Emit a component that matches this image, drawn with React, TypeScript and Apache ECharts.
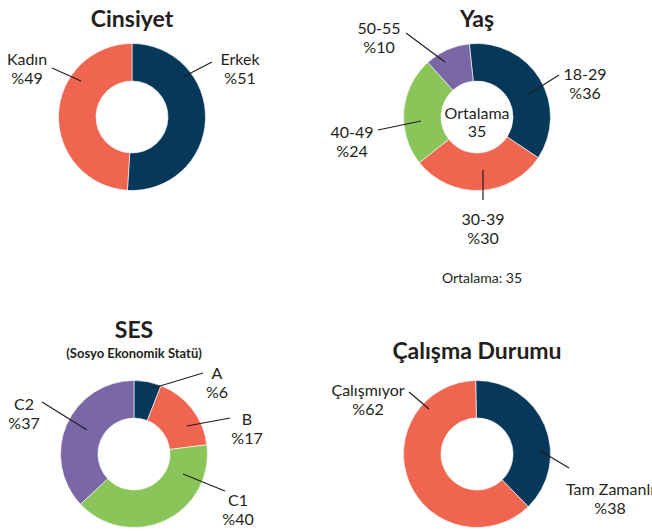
import React, { useEffect, useRef } from 'react';
import * as echarts from 'echarts';

// ---- Data ----
const genderCategories = ['Erkek', 'Kadın'];
const genderValues = [51, 49];

const ageCategories = ['18-29', '30-39', '40-49', '50-55'];
const ageValues = [36, 30, 24, 10];
const averageAge = 35;

const sesCategories = ['A', 'B', 'C1', 'C2'];
const sesValues = [6, 17, 40, 37];

const workCategories = ['Tam Zamanlı', 'Çalışmıyor'];
const workValues = [38, 62];

// ---- Styles ----
const NAVY = '#053859';
const CORAL = '#EF6550';
const GREEN = '#89C559';
const PURPLE = '#7A67A6';
const TEXT = '#231F20';
const FONT = 'Lato';

type LabelPos = { label: number[]; from: number[]; to: number[] };

const genderLayout: LabelPos[] = [
  { label: [240, 68], from: [183, 77], to: [212, 62] },
  { label: [27, 68], from: [81, 81], to: [52, 68] },
];
const ageLayout: LabelPos[] = [
  { label: [585, 83], from: [529, 94], to: [559, 75] },
  { label: [483, 228], from: [483, 170], to: [483, 200] },
  { label: [352, 141], from: [421, 121], to: [378, 130] },
  { label: [379, 37], from: [445, 62], to: [406, 33] },
];
const sesLayout: LabelPos[] = [
  { label: [217, 382], from: [150, 389], to: [203, 373] },
  { label: [247, 428], from: [187, 426], to: [230, 418] },
  { label: [238, 509], from: [183, 474], to: [225, 491] },
  { label: [24, 413], from: [87, 430], to: [42, 402] },
];
const workLayout: LabelPos[] = [
  { label: [610, 498], from: [539, 450], to: [569, 468] },
  { label: [368, 399], from: [429, 409], to: [409, 392] },
];

function pie(
  cats: string[],
  vals: number[],
  colors: string[],
  center: number[],
  startAngle: number,
  layout: LabelPos[]
) {
  return {
    type: 'pie',
    center,
    radius: [36, 73.5],
    startAngle,
    clockwise: true,
    silent: true,
    avoidLabelOverlap: false,
    emphasis: { disabled: true },
    itemStyle: { borderColor: '#ffffff', borderWidth: 0.6 },
    data: cats.map((c, i) => ({ name: c, value: vals[i], itemStyle: { color: colors[i] } })),
    label: {
      show: true,
      position: 'outside',
      formatter: '{b}\n%{c}',
      fontFamily: FONT,
      fontSize: 16,
      lineHeight: 19,
      color: TEXT,
      align: 'center',
    },
    labelLine: { show: false },
    labelLayout: (p: any) => {
      const l = layout[p.dataIndex];
      return {
        x: l.label[0],
        y: l.label[1],
        align: 'center',
        verticalAlign: 'middle',
      };
    },
  };
}

function leaderLines(layout: LabelPos[]) {
  return layout.map((l) => ({
    type: 'line',
    silent: true,
    z: 100,
    shape: { x1: l.from[0], y1: l.from[1], x2: l.to[0], y2: l.to[1] },
    style: { stroke: TEXT, lineWidth: 1.2 },
  }));
}

function txt(text: string, x: number, y: number, font: string, lineHeight?: number) {
  return {
    type: 'text',
    x,
    y,
    silent: true,
    style: {
      text,
      font,
      fill: TEXT,
      textAlign: 'center',
      align: 'center',
      textVerticalAlign: 'middle',
      verticalAlign: 'middle',
      lineHeight,
    },
  };
}

export default function App() {
  const ref = useRef<HTMLDivElement>(null);
  useEffect(() => {
    const chart = echarts.init(ref.current!, null, { renderer: 'svg' });
    chart.setOption({
      animation: false,
      backgroundColor: '#ffffff',
      series: [
        pie(genderCategories, genderValues, [NAVY, CORAL], [132, 117], 90, genderLayout),
        pie(ageCategories, ageValues, [NAVY, CORAL, GREEN, PURPLE], [477, 117], 96, ageLayout),
        pie(sesCategories, sesValues, [NAVY, CORAL, GREEN, PURPLE], [134, 454], 90, sesLayout),
        pie(workCategories, workValues, [NAVY, CORAL], [477, 454], 91, workLayout),
      ],
      graphic: [
        ...leaderLines(genderLayout),
        ...leaderLines(ageLayout),
        ...leaderLines(sesLayout),
        ...leaderLines(workLayout),
        txt('Cinsiyet', 132, 18, `bold 23px ${FONT}`),
        txt('Yaş', 477, 18, `bold 23px ${FONT}`),
        txt('SES', 134, 329, `bold 23px ${FONT}`),
        txt('(Sosyo Ekonomik Statü)', 134, 353, `bold 13px ${FONT}`),
        txt('Çalışma Durumu', 477, 350, `bold 23px ${FONT}`),
        txt(`Ortalama\n${averageAge}`, 477, 121, `16px ${FONT}`, 18),
        txt(`Ortalama: ${averageAge}`, 482, 277, `14px ${FONT}`),
      ],
    });
    return () => chart.dispose();
  }, []);
  return (
    <div
      ref={ref}
      style={{ position: 'absolute', left: 0, top: 0, width: 652, height: 531 }}
    />
  );
}
